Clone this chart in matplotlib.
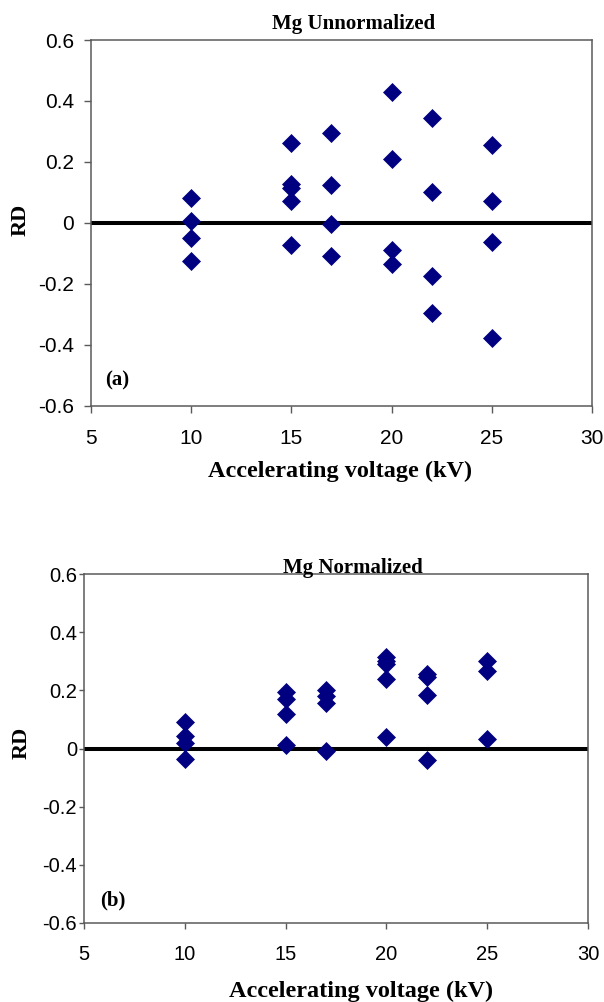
import matplotlib
matplotlib.use("Agg")
import matplotlib.pyplot as plt
import numpy as np

# ---- data ----
voltage_a = [10, 10, 10, 10,
             15, 15, 15, 15, 15,
             17, 17, 17, 17,
             20, 20, 20, 20,
             22, 22, 22, 22,
             25, 25, 25, 25]
rd_a = [0.082, 0.006, -0.051, -0.125,
        0.263, 0.128, 0.115, 0.073, -0.074,
        0.296, 0.123, -0.004, -0.108,
        0.430, 0.210, -0.088, -0.136,
        0.345, 0.101, -0.176, -0.297,
        0.256, 0.073, -0.064, -0.379]

voltage_b = [10, 10, 10, 10,
             15, 15, 15, 15,
             17, 17, 17, 17,
             20, 20, 20, 20, 20,
             22, 22, 22, 22,
             25, 25, 25]
rd_b = [0.092, 0.043, 0.018, -0.036,
        0.195, 0.172, 0.120, 0.013,
        0.203, 0.182, 0.158, -0.009,
        0.315, 0.303, 0.290, 0.240, 0.038,
        0.257, 0.245, 0.183, -0.038,
        0.300, 0.268, 0.033]

titles = ["Mg Unnormalized", "Mg Normalized"]
panel_tags = ["(a)", "(b)"]
xlabel = "Accelerating voltage (kV)"
ylabel = "RD"
xticks = [5, 10, 15, 20, 25, 30]
yticks = [-0.6, -0.4, -0.2, 0, 0.2, 0.4, 0.6]
ytick_labels = ["-0.6", "-0.4", "-0.2", "0", "0.2", "0.4", "0.6"]

W, H = 604, 1002
fig = plt.figure(figsize=(W / 100, H / 100), dpi=100)

SERIF = "Liberation Serif"
SANS = "Liberation Sans"
NAVY = "#000080"
SPINE = "#5a5a5a"


def px_axes(l, r, t, b):
    return fig.add_axes([l / W, 1 - b / H, (r - l) / W, (b - t) / H])


def ftext(x, y, s, **kw):
    fig.text(x / W, 1 - y / H, s, **kw)


panels = [
    dict(box=(91, 592, 40, 405.7), x=voltage_a, y=rd_a,
         ylen=5.4, ypad=7, xlen=5, xpad=11.5, fs=15,
         title_xy=(354, 28.5), tag_xy=(117.5, 380), rd_xy=(20.5, 220), xl_xy=(340, 477)),
    dict(box=(84, 588, 574.3, 922.7), x=voltage_b, y=rd_b,
         ylen=3.6, ypad=1.5, xlen=4.5, xpad=11.5, fs=14.5,
         title_xy=(353, 573), tag_xy=(112.7, 900), rd_xy=(22, 743), xl_xy=(361, 997)),
]

for i, p in enumerate(panels):
    ax = px_axes(*p["box"])
    ax.set_xlim(5, 30)
    ax.set_ylim(-0.6, 0.6)
    ax.axhline(0, color="black", lw=2.9, zorder=2)
    ax.plot(p["x"], p["y"], linestyle="none", marker="D", markersize=9.6,
            markerfacecolor=NAVY, markeredgecolor=NAVY, markeredgewidth=0.5,
            zorder=3, clip_on=False)
    ax.set_xticks(xticks)
    ax.set_xticklabels([str(t) for t in xticks])
    ax.set_yticks(yticks)
    ax.set_yticklabels(ytick_labels)
    for sp in ax.spines.values():
        sp.set_color(SPINE)
        sp.set_linewidth(1.1)
    ax.tick_params(axis="y", direction="out", length=p["ylen"], pad=p["ypad"],
                   width=1.0, color=SPINE, labelsize=p["fs"])
    ax.tick_params(axis="x", direction="out", length=p["xlen"], pad=p["xpad"],
                   width=1.0, color=SPINE, labelsize=p["fs"])
    for lab in ax.get_xticklabels() + ax.get_yticklabels():
        lab.set_fontfamily(SANS)

    ftext(*p["title_xy"], titles[i], family=SERIF, fontweight="bold",
          fontsize=15, ha="center", va="baseline")
    ftext(*p["tag_xy"], panel_tags[i], family=SERIF, fontweight="bold",
          fontsize=15, ha="center", va="center")
    ftext(*p["rd_xy"], ylabel, family=SERIF, fontweight="bold",
          fontsize=16, ha="center", va="center", rotation=90)
    ftext(*p["xl_xy"], xlabel, family=SERIF, fontweight="bold",
          fontsize=17.5, ha="center", va="baseline")

fig.savefig("out.png", dpi=100)
